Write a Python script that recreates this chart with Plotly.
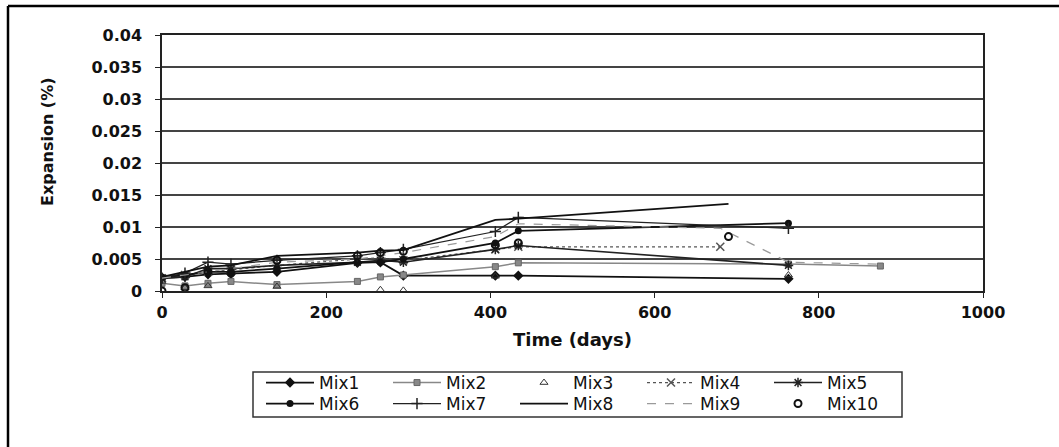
import plotly.graph_objects as go

# ---- data ----
mix1_t = [0, 28, 56, 84, 140, 238, 266, 294, 406, 434, 763]
mix1_y = [0.002, 0.0022, 0.0026, 0.0027, 0.003, 0.0044, 0.0045, 0.0024, 0.0024, 0.0024, 0.0019]
mix2_t = [0, 28, 56, 84, 140, 238, 266, 294, 406, 434, 763, 875]
mix2_y = [0.0012, 0.0008, 0.0012, 0.0015, 0.001, 0.0015, 0.0022, 0.0025, 0.0038, 0.0044, 0.0042, 0.0039]
mix3_t = [0, 28, 56, 140, 266, 294, 406, 763]
mix3_y = [0.0015, 0.0005, 0.0008, 0.0007, 0.0002, 0.0001, 0.0023, 0.0025]
mix4_t = [0, 28, 56, 84, 140, 238, 266, 294, 406, 434, 680]
mix4_y = [0.002, 0.0025, 0.003, 0.0033, 0.004, 0.005, 0.0052, 0.0048, 0.0065, 0.0069, 0.0069]
mix5_t = [0, 28, 56, 84, 140, 238, 266, 294, 406, 434, 763]
mix5_y = [0.002, 0.0022, 0.0035, 0.0035, 0.004, 0.0045, 0.0048, 0.0045, 0.0065, 0.0071, 0.004]
mix6_t = [0, 28, 56, 84, 140, 238, 266, 294, 406, 434, 763]
mix6_y = [0.0022, 0.0025, 0.003, 0.003, 0.0035, 0.0045, 0.0045, 0.005, 0.0075, 0.0094, 0.0106]
mix7_t = [0, 28, 56, 84, 140, 238, 266, 294, 406, 434, 763]
mix7_y = [0.002, 0.0028, 0.0045, 0.0042, 0.0048, 0.0055, 0.006, 0.0065, 0.0093, 0.0115, 0.0098]
mix8_t = [0, 28, 56, 84, 140, 238, 266, 294, 406, 434, 690]
mix8_y = [0.0022, 0.003, 0.0038, 0.004, 0.0055, 0.006, 0.0063, 0.0064, 0.0111, 0.0113, 0.0136]
mix9_t = [0, 28, 56, 84, 140, 238, 266, 294, 406, 434, 680, 763, 875]
mix9_y = [0.002, 0.0025, 0.003, 0.0035, 0.0045, 0.005, 0.0055, 0.006, 0.0085, 0.0105, 0.0098, 0.0045, 0.0042]
mix10_t = [0, 28, 56, 84, 140, 238, 266, 294, 406, 434, 690]
mix10_y = [0.0, 0.0005, 0.003, 0.0028, 0.0048, 0.0055, 0.006, 0.0062, 0.0072, 0.0075, 0.0085]

y_ticks = [0, 0.005, 0.01, 0.015, 0.02, 0.025, 0.03, 0.035, 0.04]
y_tick_text = ["0", "0.005", "0.01", "0.015", "0.02", "0.025", "0.03", "0.035", "0.04"]
x_ticks = [0, 200, 400, 600, 800, 1000]

FONT = "DejaVu Sans, Verdana, sans-serif"

fig = go.Figure()

def add(name, t, y, mode, color, legend, symbol=None, msize=7, lw=1.5, dash="solid",
        mcolor=None, mline=None):
    marker = dict(color=mcolor or color, size=msize)
    if symbol:
        marker["symbol"] = symbol
    if mline:
        marker["line"] = mline
    fig.add_trace(go.Scatter(
        x=t, y=y, name=name, mode=mode, legend=legend,
        line=dict(color=color, width=lw, dash=dash),
        marker=marker,
    ))

add("Mix1", mix1_t, mix1_y, "lines+markers", "#111111", "legend", "diamond", 8, 1.8)
add("Mix2", mix2_t, mix2_y, "lines+markers", "#888888", "legend", "square", 6, 1.5,
    mline=dict(color="#666666", width=1))
add("Mix3", mix3_t, mix3_y, "markers", "#333333", "legend", "triangle-up-open", 7, 1,
    mline=dict(color="#333333", width=1))
add("Mix4", mix4_t, mix4_y, "lines+markers", "#555555", "legend", "x-thin-open", 8, 1.2,
    dash="dot", mline=dict(color="#222222", width=1.5))
add("Mix5", mix5_t, mix5_y, "lines+markers", "#222222", "legend", "asterisk-open", 8, 1.6,
    mline=dict(color="#222222", width=1.5))
add("Mix6", mix6_t, mix6_y, "lines+markers", "#111111", "legend2", "circle", 7, 1.8)
add("Mix7", mix7_t, mix7_y, "lines+markers", "#222222", "legend2", "cross-thin-open", 8, 1.2,
    mline=dict(color="#222222", width=1.5))
add("Mix8", mix8_t, mix8_y, "lines", "#111111", "legend2", None, 6, 1.8)
add("Mix9", mix9_t, mix9_y, "lines", "#9a9a9a", "legend2", None, 6, 1.2, dash="dash")
add("Mix10", mix10_t, mix10_y, "markers", "#111111", "legend2", "circle-open", 7, 1,
    mline=dict(color="#111111", width=2))

# plot area in pixels: left 162, right 983, top 35, bottom 291
W, H = 1059, 447
L, R, T, B = 162, 983, 35, 291
pw, ph = R - L, B - T

def px(xp):
    return (xp - L) / pw

def py(yp):
    return (B - yp) / ph

legend_common = dict(
    orientation="h", xanchor="left", yanchor="middle",
    bgcolor="rgba(0,0,0,0)", borderwidth=0,
    font=dict(family=FONT, size=17, color="#111111"),
    entrywidth=64, itemwidth=48, tracegroupgap=0,
)

fig.update_layout(
    width=W, height=H,
    margin=dict(l=L, r=W - R, t=T, b=H - B),
    paper_bgcolor="white", plot_bgcolor="white",
    font=dict(family=FONT, color="#111111", size=15),
    showlegend=True,
    legend=dict(x=px(261), y=py(383), **legend_common),
    legend2=dict(x=px(261), y=py(404), **legend_common),
    xaxis=dict(
        range=[0, 1000], tickvals=x_ticks, ticks="outside", ticklen=5,
        tickcolor="#222222", showline=True, linecolor="#222222", linewidth=1.5,
        mirror=True, showgrid=False, zeroline=False, ticklabelstandoff=1,
        tickfont=dict(family=FONT, size=16, color="#111111", weight="bold"),
        title=dict(text="<b>Time (days)</b>", font=dict(family=FONT, size=18, color="#111111"),
                   standoff=12),
    ),
    yaxis=dict(
        range=[0, 0.04], tickvals=y_ticks, ticktext=y_tick_text, ticks="outside", ticklen=5,
        tickcolor="#222222", showline=True, linecolor="#222222", linewidth=1.5,
        mirror=True, showgrid=True, gridcolor="#444444", gridwidth=1.5, zeroline=False,
        ticklabelstandoff=10,
        tickfont=dict(family=FONT, size=16, color="#111111", weight="bold"),
    ),
    annotations=[
        dict(text="<b>Expansion (%)</b>", textangle=-90, xref="paper", yref="paper",
             x=px(47), y=py(142), xanchor="center", yanchor="middle", showarrow=False,
             font=dict(family=FONT, size=16, color="#111111")),
    ],
    shapes=[
        # outer frame (top and left edges)
        dict(type="line", xref="paper", yref="paper", x0=px(8), x1=px(1059), y0=py(6), y1=py(6),
             line=dict(color="black", width=2.5)),
        dict(type="line", xref="paper", yref="paper", x0=px(8), x1=px(8), y0=py(6), y1=py(447),
             line=dict(color="black", width=2.5)),
        # legend box
        dict(type="rect", xref="paper", yref="paper", x0=px(253), x1=px(902),
             y0=py(372), y1=py(417), line=dict(color="#333333", width=1.5)),
    ],
)

fig.write_html("out.html", config={"displayModeBar": False},
               post_script="document.body.style.margin='0px';")
